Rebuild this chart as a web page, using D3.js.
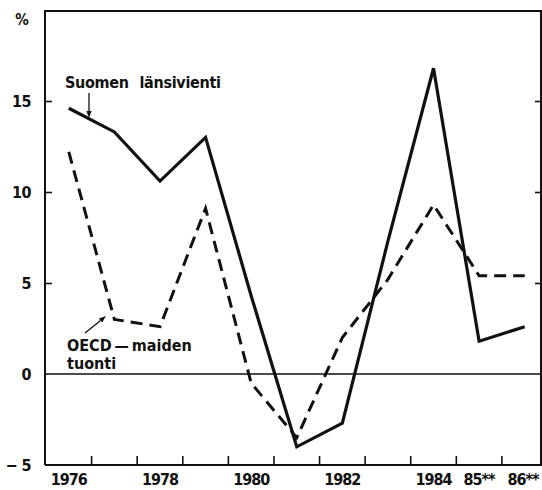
<!DOCTYPE html>
<html>
<head>
<meta charset="utf-8">
<script src="https://cdn.jsdelivr.net/npm/d3@7"></script>
<style>
  body { margin: 0; background: #fff; }
  svg text { font-family: "DejaVu Sans Condensed", "Liberation Sans Narrow", sans-serif; font-weight: bold; fill: #111; }
</style>
</head>
<body>
<div id="chart"></div>
<script>
// years on the x axis and their labels
const years = [1976, 1977, 1978, 1979, 1980, 1981, 1982, 1983, 1984, 1985, 1986];
const yearLabels = ["1976", "", "1978", "", "1980", "", "1982", "", "1984", "85**", "86**"];

// % change
const westExports = [14.6, 13.3, 10.6, 13.0, 4.3, -4.0, -2.7, 7.3, 16.8, 1.8, 2.6];
const oecdImports = [12.2, 3.0, 2.6, 9.1, -0.5, -3.5, 2.0, 5.2, 9.3, 5.4, 5.4];

const yTicks = [-5, 0, 5, 10, 15];

const width = 542, height = 490;
const plotLeft = 45, plotRight = 541, plotTop = 10, plotBottom = 465;

const svg = d3.select("#chart").append("svg")
    .attr("width", width)
    .attr("height", height);

const x = d3.scaleBand()
    .domain(years)
    .range([46, 547.5])
    .padding(0);

const y = d3.scaleLinear()
    .domain([-5, 20])
    .range([plotBottom, plotTop]);

const cx = d => x(d) + x.bandwidth() / 2;

// frame
svg.append("path")
    .attr("d", `M${plotLeft},${plotBottom}V${plotTop + 1}H${plotRight}V${plotBottom}`)
    .attr("fill", "none")
    .attr("stroke", "#111")
    .attr("stroke-width", 2);

svg.append("line")
    .attr("x1", plotLeft).attr("x2", width)
    .attr("y1", plotBottom).attr("y2", plotBottom)
    .attr("stroke", "#111")
    .attr("stroke-width", 2.2);

// zero line
svg.append("line")
    .attr("x1", plotLeft).attr("x2", width)
    .attr("y1", y(0)).attr("y2", y(0))
    .attr("stroke", "#111")
    .attr("stroke-width", 1.3);

// y axis left (inward ticks)
const yAxis = d3.axisLeft(y)
    .tickValues(yTicks)
    .tickSize(-7)
    .tickPadding(14)
    .tickFormat(d => d < 0 ? "\u2212 " + Math.abs(d) : d);

const gy = svg.append("g")
    .attr("transform", `translate(${plotLeft},0)`)
    .call(yAxis);
gy.select(".domain").remove();
gy.selectAll(".tick line").attr("stroke", "#111").attr("stroke-width", 1.6)
    .attr("display", d => d <= 0 ? "none" : null);
gy.selectAll(".tick text")
    .attr("font-size", 16)
    .attr("letter-spacing", -0.5)
    .attr("fill", "#111");
gy.attr("font-family", null).attr("font-size", null);

svg.append("text")
    .attr("x", 22)
    .attr("y", y(19.2))
    .attr("text-anchor", "middle")
    .attr("font-size", 15)
    .text("%");

// y axis right
const gr = svg.append("g")
    .attr("transform", `translate(${plotRight},0)`)
    .call(d3.axisRight(y).tickValues([5, 10, 15]).tickSize(-6).tickFormat(""));
gr.select(".domain").remove();
gr.selectAll(".tick line").attr("stroke", "#111").attr("stroke-width", 1.6);

// x ticks on band boundaries
svg.append("g")
    .selectAll("line")
    .data(years.slice(1))
    .join("line")
    .attr("x1", d => x(d)).attr("x2", d => x(d))
    .attr("y1", plotBottom).attr("y2", plotBottom - 9)
    .attr("stroke", "#111")
    .attr("stroke-width", 1.6);

// x labels in band centres
svg.append("g")
    .selectAll("text")
    .data(years)
    .join("text")
    .attr("x", d => Math.min(cx(d), 523))
    .attr("y", 485)
    .attr("text-anchor", "middle")
    .attr("font-size", 16)
    .attr("letter-spacing", -1)
    .text((d, i) => yearLabels[i]);

// lines
const line = d3.line()
    .x((d, i) => cx(years[i]))
    .y(d => y(d));

svg.append("path")
    .datum(oecdImports)
    .attr("d", line)
    .attr("fill", "none")
    .attr("stroke", "#111")
    .attr("stroke-width", 3)
    .attr("stroke-dasharray", "12,7");

svg.append("path")
    .datum(westExports)
    .attr("d", line)
    .attr("fill", "none")
    .attr("stroke", "#111")
    .attr("stroke-width", 3.2)
    .attr("stroke-linejoin", "miter");

// annotations
function arrow(x1, y1, x2, y2) {
    const a = Math.atan2(y2 - y1, x2 - x1);
    const len = 7, w = 2.6;
    const bx = x2 - len * Math.cos(a), by = y2 - len * Math.sin(a);
    svg.append("line")
        .attr("x1", x1).attr("y1", y1).attr("x2", bx).attr("y2", by)
        .attr("stroke", "#111").attr("stroke-width", 1.3);
    svg.append("path")
        .attr("d", `M${x2},${y2}L${bx + w * Math.sin(a)},${by - w * Math.cos(a)}L${bx - w * Math.sin(a)},${by + w * Math.cos(a)}Z`)
        .attr("fill", "#111");
}

svg.append("text")
    .attr("x", 65)
    .attr("y", 88)
    .attr("font-size", 16)
    .attr("letter-spacing", -0.3)
    .attr("word-spacing", 6)
    .text("Suomen länsivienti");
arrow(89, 93, 89, 118);

svg.append("text")
    .attr("x", 67)
    .attr("y", 351)
    .attr("font-size", 16)
    .text("OECD\u2009\u2014\u2009maiden");
svg.append("text")
    .attr("x", 67)
    .attr("y", 369)
    .attr("font-size", 16)
    .text("tuonti");
arrow(85, 333, 106, 316);
</script>
</body>
</html>
